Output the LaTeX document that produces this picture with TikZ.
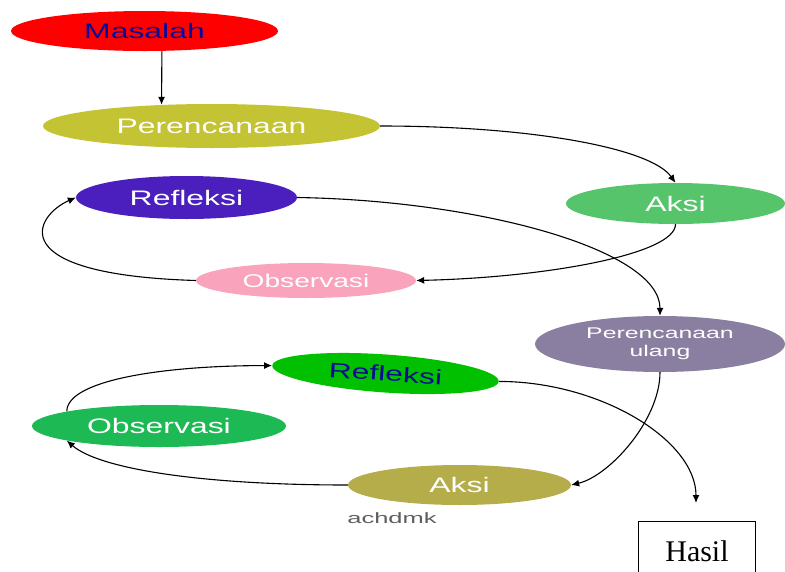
\documentclass[tikz,border=0pt]{standalone}
\usepackage{fontspec}
\usepackage{graphicx}
\setmainfont{Liberation Sans}
\newfontfamily\hasilfont{Liberation Serif}
\usetikzlibrary{shapes.geometric,arrows.meta}

\definecolor{cMasalah}{HTML}{FF0000}
\definecolor{cNavy}{HTML}{0A0A96}
\definecolor{cRencana}{HTML}{C4C334}
\definecolor{cRefleksiA}{HTML}{4B1FBD}
\definecolor{cAksiA}{HTML}{55C46B}
\definecolor{cObsA}{HTML}{F9A3BD}
\definecolor{cUlang}{HTML}{8A7FA0}
\definecolor{cRefleksiB}{HTML}{00C000}
\definecolor{cObsB}{HTML}{1CB954}
\definecolor{cAksiB}{HTML}{B5AD4A}
\definecolor{cMark}{HTML}{5E5E5E}

% wide letters, as in the picture
\newcommand{\wtext}[2][1.52]{\scalebox{#1}[1]{#2}}

\tikzset{
  stage/.style={ellipse, inner sep=0pt, text=white, font=\fontsize{21}{25}\selectfont},
  flow/.style={-{Latex[length=8pt,width=7pt]}, line width=1.1pt},
}

\begin{document}
\begin{tikzpicture}[x=1pt,y=1pt,yscale=-1,xscale=1]
\useasboundingbox (0,0) rectangle (785,571);

% Ellipses: first cycle
\node [stage, fill=cMasalah, text=cNavy, minimum width=267pt, minimum height=40pt] (masalah) at (144.5,31) {\wtext{Masalah}};
\node [stage, fill=cRencana, minimum width=337pt, minimum height=44pt] (perenc) at (211.5,126) {\wtext{Perencanaan}};
\node [stage, fill=cRefleksiA, minimum width=221pt, minimum height=43pt] (refl1) at (186.5,197.5) {\wtext{Refleksi}};
\node [stage, fill=cAksiA, minimum width=219pt, minimum height=41pt] (aksi1) at (675.5,203.5) {\wtext{Aksi}};
\node [stage, fill=cObsA, minimum width=220pt, minimum height=35pt, font=\fontsize{18.5}{22}\selectfont] (obs1) at (306,280.5) {\wtext{Observasi}};

% Ellipses: second cycle
\node [stage, fill=cUlang, minimum width=250pt, minimum height=56pt, font=\fontsize{15.5}{18}\selectfont] (ulang) at (660,344) {\wtext[1.6]{\begin{tabular}{@{}c@{}}Perencanaan\\ulang\end{tabular}}};
\node [stage, fill=cRefleksiB, text=cNavy, minimum width=227pt, minimum height=38pt, rotate=-4] (refl2) at (385.5,373.5) {\wtext{Refleksi}};
\node [stage, fill=cObsB, minimum width=254pt, minimum height=42pt] (obs2) at (159,426) {\wtext{Observasi}};
\node [stage, fill=cAksiB, minimum width=223pt, minimum height=40pt] (aksi2) at (459.5,485) {\wtext{Aksi}};

% Text Node
\node [text=cMark, font=\fontsize{15}{17}\selectfont] (mark) at (392,518) {\wtext[1.7]{achdmk}};
% Result box
\node [draw, line width=1pt, minimum width=117pt, minimum height=60pt, inner sep=0pt, font=\hasilfont\fontsize{30}{34}\selectfont] (hasil) at (697,551) {Hasil};
\coordinate (hasilend) at (696,503);

% Straight Lines
\draw [flow] (masalah.311) -- (perenc.157);
% Curve Lines
\draw [flow] (perenc.east) .. controls +(150,0) and +(-25,-35) .. (aksi1.north);
\draw [flow] (aksi1.south) .. controls +(0,30) and +(130,-3) .. (obs1.east);
\draw [flow] (obs1.west) .. controls +(-196,-6) and +(-41,18) .. (refl1.west);
\draw [flow] (refl1.east) .. controls +(183,3) and +(0,-66) .. (ulang.north);
\draw [flow] (ulang.south) .. controls +(0,48) and +(38,-9) .. (aksi2.east);
\draw [flow] (obs2.171) .. controls +(0,-31) and +(-110,0) .. (refl2.west);
\draw [flow] (aksi2.west) .. controls +(-148,0) and +(32,28) .. (obs2.189);
\draw [flow] (refl2.east) .. controls +(101,0) and +(0,-63) .. (hasilend);

\end{tikzpicture}
\end{document}
